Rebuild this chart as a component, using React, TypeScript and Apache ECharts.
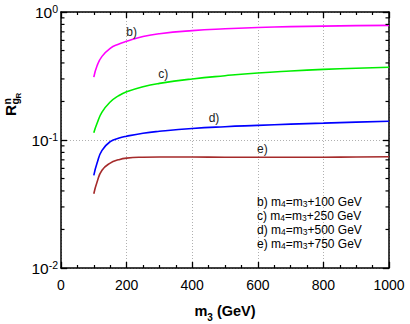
import React, { useEffect, useRef } from "react";
import * as echarts from "echarts";

const m3 = [100, 110, 125, 150, 175, 200, 250, 300, 400, 500, 600, 700, 800, 900, 1000];
const curveB = [0.31, 0.38, 0.45, 0.52, 0.56, 0.59, 0.643, 0.677, 0.715, 0.739, 0.756, 0.768, 0.776, 0.782, 0.786];
const curveC = [0.114, 0.135, 0.165, 0.198, 0.221, 0.238, 0.261, 0.277, 0.3, 0.318, 0.334, 0.346, 0.356, 0.364, 0.37];
const curveD = [0.053, 0.066, 0.083, 0.097, 0.103, 0.107, 0.113, 0.117, 0.123, 0.127, 0.13, 0.133, 0.1355, 0.138, 0.14];
const curveE = [0.038, 0.047, 0.058, 0.066, 0.07, 0.0722, 0.0734, 0.0737, 0.0736, 0.0734, 0.0733, 0.0733, 0.0734, 0.0737, 0.074];
const seriesNames = ["b)", "c)", "d)", "e)"];
const seriesColors = ["#ff00ff", "#00ee00", "#0000ff", "#a52a2a"];
const legendLines = [
  "b) m{s|4}=m{s|3}+100 GeV",
  "c) m{s|4}=m{s|3}+250 GeV",
  "d) m{s|4}=m{s|3}+500 GeV",
  "e) m{s|4}=m{s|3}+750 GeV",
];
const yMinorTicks = [0.02, 0.03, 0.04, 0.05, 0.06, 0.07, 0.08, 0.09, 0.2, 0.3, 0.4, 0.5, 0.6, 0.7, 0.8, 0.9];
const xMin = 0;
const xMax = 1000;
const xInterval = 200;
const yMin = 0.01;
const yMax = 1;

const FONT = "Liberation Sans, Arial, Helvetica, sans-serif";

export default function App() {
  const ref = useRef<HTMLDivElement>(null);
  useEffect(() => {
    document.body.style.margin = "0";
    const chart = echarts.init(ref.current!, null, { renderer: "svg" });
    const curves = [curveB, curveC, curveD, curveE];
    const lineSeries = curves.map((c, i) => ({
      name: seriesNames[i],
      type: "line",
      xAxisIndex: 0,
      yAxisIndex: 0,
      data: m3.map((x, j) => [x, c[j]]),
      smooth: 0.5,
      showSymbol: false,
      lineStyle: { color: seriesColors[i], width: 1.6 },
      itemStyle: { color: seriesColors[i] },
      z: 3,
    }));
    const axisCommonX = {
      type: "value",
      min: xMin,
      max: xMax,
      interval: xInterval,
      axisLine: { show: true, onZero: false, lineStyle: { color: "#000", width: 1.5 } },
      axisTick: { show: true, inside: true, length: 6, lineStyle: { color: "#000", width: 1.3 } },
      minorTick: { show: true, splitNumber: 4, length: 3, lineStyle: { color: "#000", width: 1.2 } },
    };
    const axisCommonY = {
      type: "log",
      logBase: 10,
      min: yMin,
      max: yMax,
      axisLine: { show: true, onZero: false, lineStyle: { color: "#000", width: 1.5 } },
      axisTick: { show: true, inside: true, length: 6, lineStyle: { color: "#000", width: 1.3 } },
    };
    chart.setOption({
      animation: false,
      textStyle: { fontFamily: FONT },
      grid: { left: 61, right: 21, top: 12, bottom: 56, containLabel: false, outerBoundsMode: "none" },
      xAxis: [
        {
          ...axisCommonX,
          position: "bottom",
          name: "{b|m}{s|3}{b| (GeV)}",
          nameLocation: "middle",
          nameGap: 35,
          nameTextStyle: {
            rich: {
              b: { fontSize: 14.5, fontWeight: "bold", color: "#000", fontFamily: FONT, lineHeight: 16, verticalAlign: "top" },
              s: { fontSize: 10, fontWeight: "bold", color: "#000", fontFamily: FONT, lineHeight: 10, verticalAlign: "bottom", padding: [0, 0, -3, 0] },
            },
          },
          axisLabel: {
            show: true,
            margin: 10,
            fontSize: 14,
            color: "#000",
            fontFamily: FONT,
            formatter: (v: number) => String(v),
          },
          splitLine: { show: true, lineStyle: { color: "#b0b0b0", type: [1, 2], width: 1 } },
        },
        {
          ...axisCommonX,
          position: "top",
          axisLabel: { show: false },
          splitLine: { show: false },
        },
      ],
      yAxis: [
        {
          ...axisCommonY,
          position: "left",
          axisLabel: {
            show: true,
            margin: 3,
            formatter: (v: number) => {
              const e = Math.round(Math.log10(v));
              return "{b|10}{s|" + e + "}";
            },
            rich: {
              b: { fontSize: 15.5, color: "#000", fontFamily: FONT, lineHeight: 18 },
              s: { fontSize: 10.5, color: "#000", fontFamily: FONT, lineHeight: 10, verticalAlign: "top" },
            },
          },
          splitLine: { show: true, lineStyle: { color: "#b0b0b0", type: [1, 2], width: 1 } },
        },
        {
          ...axisCommonY,
          position: "right",
          axisLabel: { show: false },
          splitLine: { show: false },
        },
      ],
      series: [
        ...lineSeries,
        {
          type: "custom",
          xAxisIndex: 0,
          yAxisIndex: 0,
          clip: false,
          silent: true,
          data: yMinorTicks.map((v) => [xMin, v]),
          renderItem: (params: any, api: any) => {
            const v = api.value(1);
            const pL = api.coord([xMin, v]);
            const pR = api.coord([xMax, v]);
            return {
              type: "group",
              children: [
                { type: "line", shape: { x1: pL[0], y1: pL[1], x2: pL[0] + 3.5, y2: pL[1] }, style: { stroke: "#000", lineWidth: 1.2 } },
                { type: "line", shape: { x1: pR[0], y1: pR[1], x2: pR[0] - 3.5, y2: pR[1] }, style: { stroke: "#000", lineWidth: 1.2 } },
              ],
            };
          },
          z: 4,
        },
      ],
      graphic: [
        {
          type: "group",
          x: 18.5,
          y: 116,
          rotation: Math.PI / 2,
          children: [
            { type: "text", x: 0, y: 0, style: { text: "R", fontSize: 15.5, fontWeight: "bold", fontFamily: FONT, fill: "#000", verticalAlign: "bottom", align: "left" } },
            { type: "text", x: 11.5, y: -6.5, style: { text: "n", fontSize: 10.5, fontWeight: "bold", fontFamily: FONT, fill: "#000", verticalAlign: "bottom", align: "left" } },
            { type: "text", x: 11.5, y: 2, style: { text: "g", fontSize: 10.5, fontWeight: "bold", fontFamily: FONT, fill: "#000", verticalAlign: "bottom", align: "left" } },
            { type: "text", x: 17.5, y: 4, style: { text: "R", fontSize: 8, fontWeight: "bold", fontFamily: FONT, fill: "#000", verticalAlign: "bottom", align: "left" } },
          ],
        },
        ...[
          [131.7, 32.3],
          [163.3, 74],
          [214, 118.3],
          [262.3, 149.3],
        ].map((p, i) => ({
          type: "text",
          x: p[0],
          y: p[1],
          z: 10,
          style: { text: seriesNames[i], fontSize: 12, fontFamily: FONT, fill: "#222", align: "center", verticalAlign: "middle" },
        })),
        ...legendLines.map((t, i) => ({
          type: "text",
          x: 257,
          y: 201.5 + i * 14,
          z: 10,
          style: {
            text: t,
            fontSize: 12,
            fontFamily: FONT,
            fill: "#000",
            align: "left",
            verticalAlign: "middle",
            lineHeight: 14,
            rich: {
              s: { fontSize: 8.5, fontFamily: FONT, fill: "#000", lineHeight: 8, verticalAlign: "bottom" },
            },
          },
        })),
      ],
    });
    return () => chart.dispose();
  }, []);
  return <div ref={ref} style={{ width: 410, height: 324 }} />;
}
